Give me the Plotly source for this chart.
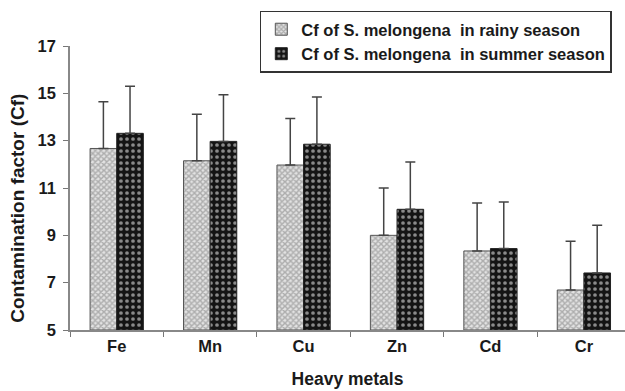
import plotly.graph_objects as go

metals = ["Fe", "Mn", "Cu", "Zn", "Cd", "Cr"]
rainy = [12.67, 12.15, 11.97, 9.0, 8.34, 6.69]
rainy_err = [1.97, 1.97, 1.97, 2.0, 2.03, 2.06]
summer = [13.31, 12.97, 12.85, 10.1, 8.44, 7.41]
summer_err = [1.99, 1.97, 2.0, 2.0, 1.97, 2.02]
y_ticks = [5, 7, 9, 11, 13, 15, 17]

FONT = "Arial, Liberation Sans, sans-serif"
TXT = "#1a1a1a"

fig = go.Figure()
fig.add_trace(go.Bar(
    x=metals, y=[v - 5 for v in rainy], base=5,
    name="Cf of S. melongena\u00a0 in rainy season",
    marker=dict(color="#c0c0c0", line=dict(color="#555", width=1),
                pattern=dict(shape="x", fgcolor="#777777", bgcolor="#e2e2e2", size=4, solidity=0.6)),
    error_y=dict(type="data", array=rainy_err, arrayminus=[0]*6, symmetric=False,
                 color="#444", thickness=1.5, width=5),
))
fig.add_trace(go.Bar(
    x=metals, y=[v - 5 for v in summer], base=5,
    name="Cf of S. melongena\u00a0 in summer season",
    marker=dict(color="#222", line=dict(color="#222", width=1),
                pattern=dict(shape=".", fgcolor="#ffffff", bgcolor="#141414", size=6, solidity=0.3)),
    error_y=dict(type="data", array=summer_err, arrayminus=[0]*6, symmetric=False,
                 color="#444", thickness=1.5, width=5),
))

fig.add_annotation(
    text="Contamination factor (Cf)", textangle=-90,
    xref="paper", yref="paper", x=-0.094, y=0.43,
    xanchor="center", yanchor="middle", showarrow=False,
    font=dict(size=19, family=FONT, weight="bold", color=TXT),
)

fig.update_layout(
    width=625, height=391,
    margin=dict(l=70, r=0, t=46, b=61),
    paper_bgcolor="white", plot_bgcolor="white",
    barmode="group", bargap=0.43, bargroupgap=0,
    font=dict(family=FONT, color=TXT),
    showlegend=True,
    legend=dict(x=0.342, y=1.125, xanchor="left", yanchor="top",
                bgcolor="white", bordercolor="#333", borderwidth=1.5,
                font=dict(size=16.5, family=FONT, weight="bold", color=TXT),
                tracegroupgap=0, itemwidth=30),
    xaxis=dict(range=[-0.5, 5.44], showline=True, linecolor="#888", linewidth=1.5,
               ticks="outside", tickson="boundaries", ticklen=5, tickcolor="#777",
               tickfont=dict(size=16.5, family=FONT, weight="bold", color=TXT),
               title=dict(text="Heavy metals", standoff=19,
                          font=dict(size=17.5, family=FONT, weight="bold", color=TXT)),
               showgrid=False, zeroline=False),
    yaxis=dict(range=[5, 17], tickvals=y_ticks, showline=True, linecolor="#888", linewidth=1.5,
               ticks="outside", ticklen=5, tickcolor="#777", ticklabelstandoff=4,
               tickfont=dict(size=16.5, family=FONT, weight="bold", color=TXT),
               showgrid=False, zeroline=False),
)

fig.write_html("out.html")
